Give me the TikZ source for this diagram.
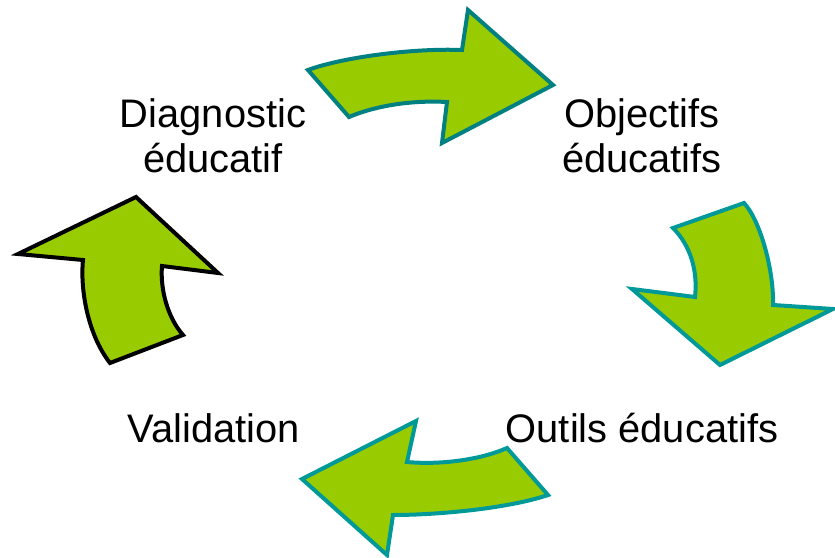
\documentclass[tikz,border=0pt]{standalone}
\usepackage{fontspec}
\setmainfont{Liberation Sans}
\usepackage{tikz}
\usetikzlibrary{positioning}
\definecolor{cgreen}{HTML}{99CC00}
\definecolor{cteal}{HTML}{009999}
\definecolor{cdteal}{HTML}{008080}

\tikzset{
  arrowshape/.style={fill=cgreen, draw=cteal, line width=4bp, line join=miter},
  steplabel/.style={font=\fontsize{40}{46}\selectfont, align=center, anchor=base, inner sep=0pt}
}

\begin{document}
\begin{tikzpicture}[x=1bp, y=-1bp]
  \useasboundingbox (0, 0) rectangle (835, 558);

  \node [steplabel] (diag) at (213, 173) {Diagnostic\\éducatif};
  \node [steplabel] (obj) at (642, 173) {Objectifs\\éducatifs};
  \node [steplabel] (outils) at (642, 442) {Outils éducatifs};
  \node [steplabel] (valid) at (214, 442) {Validation};

  \draw [arrowshape, draw=cdteal] (308, 70)
    .. controls (340, 58) and (410, 48) .. (462, 50)
    -- (468, 10)
    -- (553, 85)
    -- (442, 143)
    -- (447, 102)
    .. controls (410, 100) and (375, 106) .. (349, 117)
    -- cycle;

  \draw [arrowshape] (673, 228)
    -- (744, 203)
    .. controls (760, 220) and (774, 270) .. (773, 305)
    -- (833, 309)
    -- (720, 365)
    -- (632, 289)
    -- (695, 297)
    .. controls (698, 270) and (690, 245) .. (673, 228)
    -- cycle;

  \draw [arrowshape] (507, 448)
    -- (548, 495)
    .. controls (510, 508) and (440, 515) .. (393, 515)
    -- (387, 555)
    -- (302, 479)
    -- (416, 421)
    -- (407, 462)
    .. controls (440, 465) and (480, 460) .. (507, 448)
    -- cycle;

  \draw [arrowshape, draw=black] (110, 363)
    -- (183, 335)
    .. controls (168, 318) and (160, 290) .. (162, 266)
    -- (218, 273)
    -- (136, 197)
    -- (18, 254)
    -- (83, 260)
    .. controls (80, 290) and (88, 335) .. (110, 363)
    -- cycle;
\end{tikzpicture}
\end{document}
